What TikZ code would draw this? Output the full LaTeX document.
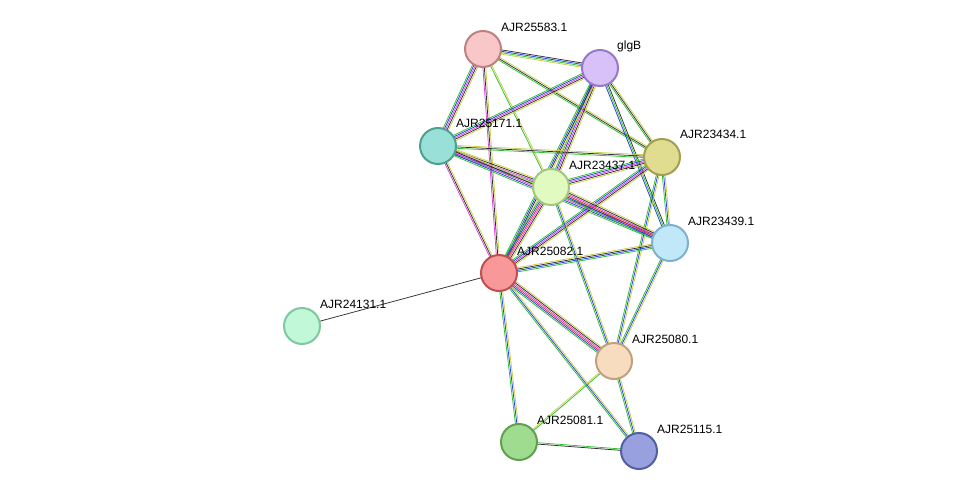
\documentclass[tikz,border=0pt]{standalone}
\usepackage{fontspec}
\setmainfont{Liberation Sans}
\usetikzlibrary{calc,backgrounds}
\definecolor{tm}{HTML}{C8D048}
\definecolor{nb}{HTML}{30C030}
\definecolor{co}{HTML}{2040E0}
\definecolor{ex}{HTML}{E040E0}
\definecolor{db}{HTML}{30C0C0}
\definecolor{fu}{HTML}{E03030}
\definecolor{cx}{HTML}{303030}
\newcommand\stredge[3]{%
  \foreach \c [count=\i] in {#3}{\xdef\nn{\i}}%
  \foreach \c [count=\i] in {#3}{%
    \pgfmathsetmacro\o{(\i-(\nn+1)/2)*1.4}%
    \draw[\c,line width=0.75pt] ($(#1.center)!\o pt!90:(#2.center)$) -- ($(#2.center)!\o pt!-90:(#1.center)$);
  }}
\tikzset{prot/.style 2 args={circle,minimum size=36pt,inner sep=0pt,line width=2pt,
    /utils/exec={\definecolor{pf}{HTML}{#1}\definecolor{pd}{HTML}{#2}},fill=pf,draw=pd},
  lab/.style={anchor=base west,font=\fontsize{12}{14}\selectfont,text=black,inner sep=0pt}}
\begin{document}
\begin{tikzpicture}[x=1pt,y=-1pt]
\useasboundingbox (0,0) rectangle (976,497);
\node[prot={F8C8C8}{C08080}] (a) at (483,49) {};
\node[prot={D8C0F8}{9878C8}] (g) at (600,68) {};
\node[prot={98E0D8}{50A090}] (b) at (438,146) {};
\node[prot={E0DC90}{A0A050}] (c) at (662,157) {};
\node[prot={E0FAC0}{A0C880}] (d) at (551,187) {};
\node[prot={C0E8F8}{80B0D0}] (e) at (670,243) {};
\node[prot={F89898}{C05050}] (f) at (499,273) {};
\node[prot={C0F8D8}{80C8A0}] (h) at (302,326) {};
\node[prot={F8DCC0}{C0A080}] (i) at (614,361) {};
\node[prot={A0DC90}{60A050}] (j) at (519,442) {};
\node[prot={98A0E0}{5060A0}] (k) at (639,451) {};
\begin{scope}[on background layer]
\fill[white] (0,0) rectangle (976,497);
\stredge{a}{g}{tm,nb,co,cx}
\stredge{a}{b}{nb,co,ex,cx,tm}
\stredge{a}{d}{nb,tm}
\stredge{a}{c}{nb,cx,tm}
\stredge{a}{f}{ex,cx,tm}
\stredge{g}{b}{nb,co,ex,cx,tm}
\stredge{g}{d}{nb,co,ex,cx,tm}
\stredge{g}{c}{nb,cx,tm}
\stredge{g}{e}{co,nb,cx}
\stredge{g}{f}{nb,co,cx,tm}
\stredge{b}{d}{nb,co,ex,cx,tm}
\stredge{b}{c}{nb,cx,tm}
\stredge{b}{e}{nb,co,ex,cx,tm}
\stredge{b}{f}{ex,cx,tm}
\stredge{c}{d}{nb,co,ex,cx,tm}
\stredge{c}{e}{nb,co,tm}
\stredge{c}{f}{nb,co,ex,cx,tm}
\stredge{c}{i}{nb,co,tm}
\stredge{d}{e}{nb,co,fu,ex,cx,tm}
\stredge{d}{f}{nb,co,fu,ex,cx,tm}
\stredge{d}{i}{nb,co,tm}
\stredge{f}{e}{nb,co,cx,tm}
\stredge{f}{i}{nb,co,fu,ex,cx,tm}
\stredge{f}{j}{nb,co,tm}
\stredge{f}{k}{nb,co,tm}
\stredge{f}{h}{cx}
\stredge{e}{i}{nb,co,tm}
\stredge{i}{j}{tm,nb}
\stredge{i}{k}{nb,co,tm}
\stredge{j}{k}{cx,nb}
\end{scope}
\node[lab] at ($(a)+(18,-17)$) {AJR25583.1};
\node[lab] at ($(g)+(17,-18)$) {glgB};
\node[lab] at ($(b)+(18,-18)$) {AJR25171.1};
\node[lab] at ($(c)+(18,-18)$) {AJR23434.1};
\node[lab] at ($(d)+(18,-18)$) {AJR23437.1};
\node[lab] at ($(e)+(18,-18)$) {AJR23439.1};
\node[lab] at ($(f)+(18,-18)$) {AJR25082.1};
\node[lab] at ($(h)+(18,-18)$) {AJR24131.1};
\node[lab] at ($(i)+(18,-18)$) {AJR25080.1};
\node[lab] at ($(j)+(18,-18)$) {AJR25081.1};
\node[lab] at ($(k)+(18,-18)$) {AJR25115.1};
\end{tikzpicture}
\end{document}
